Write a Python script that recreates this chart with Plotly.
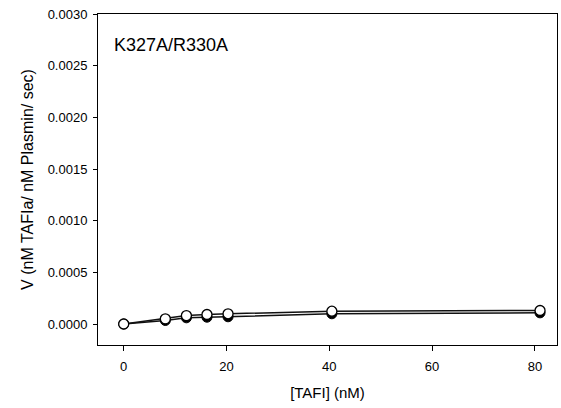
import plotly.graph_objects as go

tafi = [0, 8.1, 12.2, 16.2, 20.3, 40.5, 81]
v_open = [0.0, 0.000050, 0.000082, 0.000092, 0.000099, 0.000124, 0.000131]
v_filled = [0.0, 0.000034, 0.000060, 0.000066, 0.000070, 0.000099, 0.000108]
y_ticks = [0.0, 0.0005, 0.0010, 0.0015, 0.0020, 0.0025, 0.0030]
x_ticks = [0, 20, 40, 60, 80]

fig = go.Figure()
fig.add_trace(go.Scatter(
    x=tafi, y=v_filled, mode="lines+markers",
    line=dict(color="#111111", width=1.5),
    marker=dict(size=10, color="black", line=dict(color="black", width=1)),
    showlegend=False))
fig.add_trace(go.Scatter(
    x=tafi, y=v_open, mode="lines+markers",
    line=dict(color="#111111", width=1.5),
    marker=dict(size=10, color="white", line=dict(color="black", width=1.3)),
    showlegend=False))

fig.add_annotation(x=0.031, y=0.905, xref="paper", yref="paper",
                   text="K327A/R330A", showarrow=False, xanchor="left", yanchor="middle",
                   font=dict(family="Liberation Sans, Arial", size=18, color="black"))

fig.update_layout(
    width=561, height=408,
    margin=dict(l=98, r=4, t=14, b=63),
    paper_bgcolor="white", plot_bgcolor="white",
    font=dict(family="Liberation Sans, Arial", size=13, color="black"),
    xaxis=dict(range=[-5, 84.3], tickvals=x_ticks, ticks="outside", ticklen=5,
               tickcolor="black", showline=True, linecolor="black", linewidth=1,
               mirror=True, showgrid=False, zeroline=False, tickfont=dict(size=13),
               ticklabelstandoff=4,
               title=dict(text="[TAFI] (nM)", font=dict(size=15), standoff=14)),
    yaxis=dict(range=[-0.000203, 0.003], tickvals=y_ticks, tickformat=".4f",
               ticks="outside", ticklen=4, tickcolor="black", showline=True,
               linecolor="black", linewidth=1, mirror=True, showgrid=False,
               zeroline=False, tickfont=dict(size=13), ticklabelstandoff=3,
               title=dict(text="V (nM TAFIa/ nM Plasmin/ sec)", font=dict(size=16), standoff=10)),
)

fig.write_html("out.html")
